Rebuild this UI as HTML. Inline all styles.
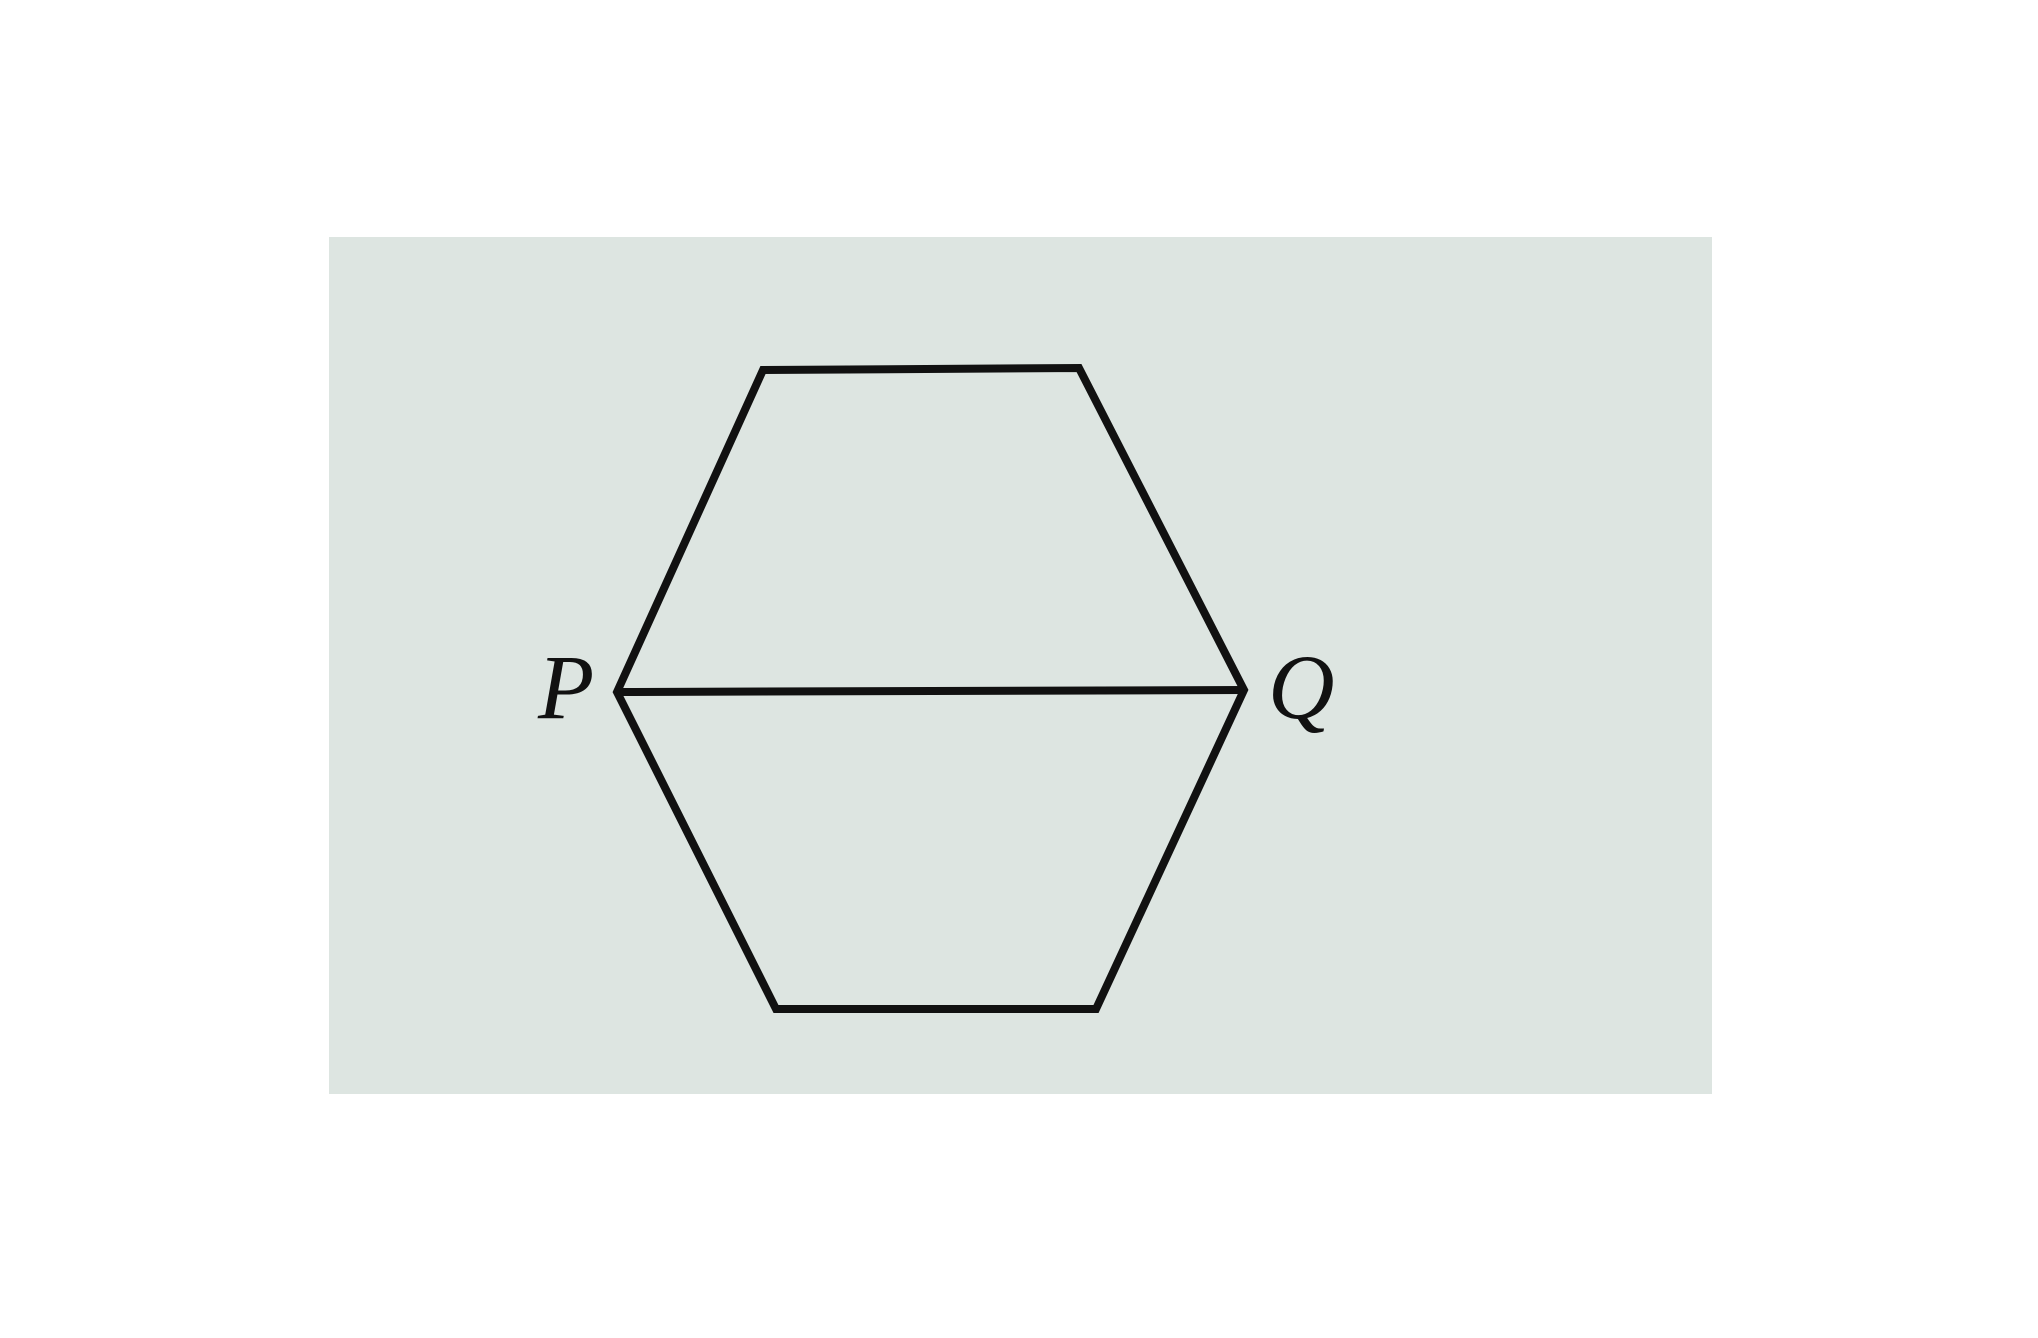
<!DOCTYPE html>
<html><head><meta charset="utf-8"><style>html,body{margin:0;padding:0;background:#fff}</style></head>
<body>
<svg width="2038" height="1333" viewBox="0 0 2038 1333">
<rect x="329" y="237" width="1383" height="857" fill="#dde5e1"/>
<polygon points="763,370 1079,368 1244,690 1096,1009 776,1009 617,692" fill="none" stroke="#111" stroke-width="8" stroke-linejoin="miter"/>
<line x1="617" y1="692" x2="1244" y2="690" stroke="#111" stroke-width="8"/>
<text x="538" y="718" font-family="Liberation Serif, serif" font-style="italic" font-size="92" fill="#111">P</text>
<text x="1268" y="718" font-family="Liberation Serif, serif" font-style="italic" font-size="92" fill="#111">Q</text>
</svg>
</body></html>
